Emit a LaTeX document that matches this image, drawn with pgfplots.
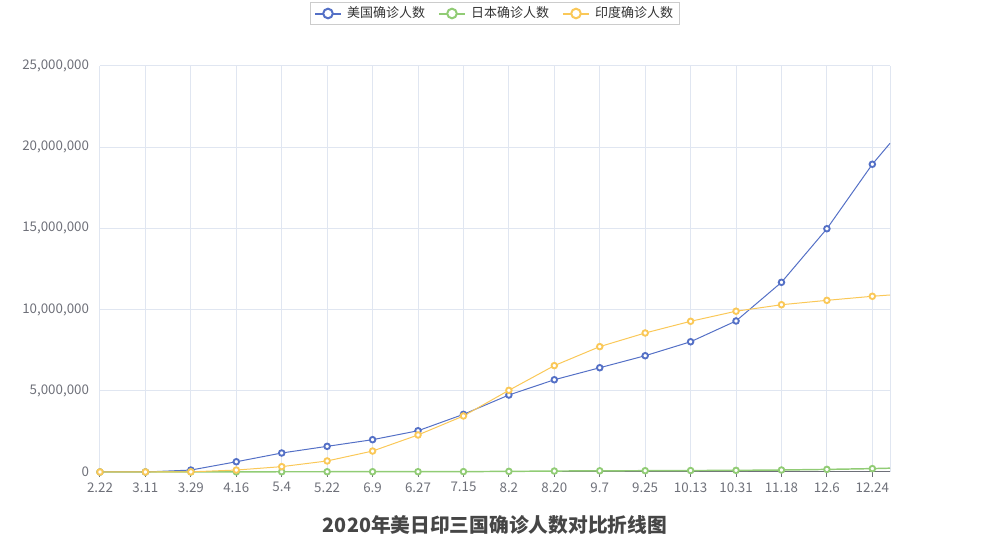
\documentclass[border=0pt]{standalone}
\usepackage{fontspec}
\setmainfont{Noto Sans CJK SC}
\usepackage{pgfplots}
\pgfplotsset{compat=1.18}
\definecolor{usblue}{HTML}{5470C6}
\definecolor{jpgreen}{HTML}{91CC75}
\definecolor{inyellow}{HTML}{FAC858}
\definecolor{axisgray}{HTML}{6E7079}
\definecolor{gridgray}{HTML}{E0E6F1}
\definecolor{titlegray}{HTML}{464646}

% day index since 2.22 (18-day steps, last point 12.31)
\pgfplotstableread{
idx us
0 0
18 1000
36 120000
54 630000
72 1170000
90 1580000
108 1990000
126 2540000
144 3550000
162 4740000
180 5680000
198 6420000
216 7160000
234 8020000
252 9300000
270 11680000
288 14980000
306 18950000
313 20240000
}\usdata
\pgfplotstableread{
idx jp
0 0
18 600
36 1900
54 9200
72 15000
90 16500
108 17300
126 18400
144 23000
162 38000
180 58000
198 72000
216 79000
234 89000
252 101000
270 122000
288 160000
306 208000
313 235000
}\jpdata
\pgfplotstableread{
idx in
0 0
18 0
36 10000
54 120000
72 330000
90 680000
108 1290000
126 2280000
144 3450000
162 5030000
180 6550000
198 7720000
216 8560000
234 9280000
252 9900000
270 10300000
288 10570000
306 10820000
313 10900000
}\indata

\begin{document}
\begin{tikzpicture}
\path[use as bounding box] (0,0) rectangle (742.5pt,412.5pt);
\begin{axis}[
  at={(75pt,58.5pt)}, anchor=south west,
  scale only axis, width=592.5pt, height=304.5pt,
  xmin=0, xmax=313, ymin=0, ymax=25000000,
  axis x line*=bottom, axis y line*=left,
  x axis line style={draw=axisgray, line width=0.75pt},
  y axis line style={draw=none},
  xtick={0,18,36,54,72,90,108,126,144,162,180,198,216,234,252,270,288,306},
  xticklabels={2.22,3.11,3.29,4.16,5.4,5.22,6.9,6.27,7.15,8.2,8.20,9.7,9.25,10.13,10.31,11.18,12.6,12.24},
  extra x ticks={313}, extra x tick labels={}, extra x tick style={major tick length=0pt},
  ytick={0,5000000,10000000,15000000,20000000,25000000},
  yticklabels={0,{5,000,000},{10,000,000},{15,000,000},{20,000,000},{25,000,000}},
  scaled y ticks=false,
  xmajorgrids, ymajorgrids,
  grid style={draw=gridgray, line width=0.75pt},
  tick align=outside,
  xtick style={draw=axisgray, line width=0.75pt},
  major tick length=3.75pt,
  ytick style={draw=none},
  ticklabel style={font=\fontsize{10}{11}\selectfont, text=axisgray},
  xticklabel style={yshift=-0.5pt},
  yticklabel style={xshift=-1pt},
  clip=false,
  legend columns=3,
  legend style={at={(0.5,1)}, anchor=south, yshift=30.75pt,
    draw=black!20, line width=0.5pt, font=\fontsize{9.75}{11}\selectfont, text=black!80,
    /tikz/every even column/.append style={column sep=8pt},
    /tikz/every odd column/.append style={column sep=2pt},
    inner xsep=3pt, inner ysep=1.5pt},
  legend image code/.code={\draw[#1, line width=1.5pt, mark=none] (0pt,0pt) -- (19pt,0pt);
    \draw[#1, mark size=3.6pt, mark options={fill=white, line width=1.5pt}] plot coordinates {(9.5pt,0pt)};},
  every axis plot/.append style={mark=*, mark size=2.1pt, mark indices={1,2,...,18},
    mark options={fill=white, line width=1.4pt}},
]
\addplot[usblue, line width=0.75pt] table[x=idx, y=us] {\usdata};
\addlegendentry{美国确诊人数}
\addplot[jpgreen, line width=1.1pt] table[x=idx, y=jp] {\jpdata};
\addlegendentry{日本确诊人数}
\addplot[inyellow, line width=0.75pt] table[x=idx, y=in] {\indata};
\addlegendentry{印度确诊人数}
\end{axis}
\node[font=\bfseries\fontsize{14.8}{16}\selectfont, text=titlegray] at (371.25pt,18.75pt) {2020年美日印三国确诊人数对比折线图};
\end{tikzpicture}
\end{document}
